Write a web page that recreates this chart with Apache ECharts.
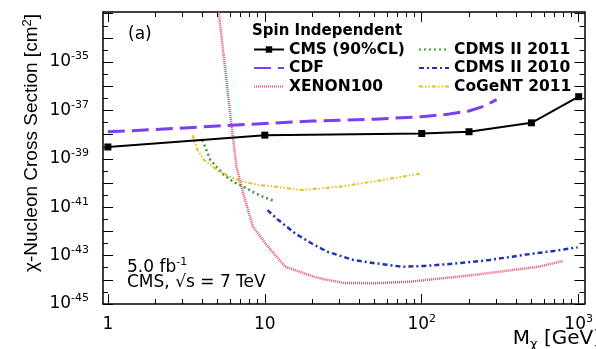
<!DOCTYPE html>
<html>
<head>
<meta charset="utf-8">
<script src="https://cdn.jsdelivr.net/npm/echarts@6/dist/echarts.min.js"></script>
<style>
  html, body { margin: 0; padding: 0; background: #fff; }
  #chart { width: 596px; height: 349px; }
</style>
</head>
<body>
<div id="chart"></div>
<script>
// values: mass in GeV, cross section in cm^2
const cmsMass = [1, 10, 100, 200, 500, 1000];
const cmsSigma = [3.09e-39, 9.55e-39, 1.12e-38, 1.32e-38, 3.09e-38, 3.72e-37];

const cdfMass = [1, 2, 5, 10, 20, 50, 100, 150, 200, 250, 300];
const cdfSigma = [1.32e-38, 1.62e-38, 2.29e-38, 2.88e-38, 3.63e-38, 4.37e-38, 5.5e-38, 7.08e-38, 9.55e-38, 1.51e-37, 2.82e-37];

const xenonMass = [5.0, 6.15, 6.6, 7.27, 8.4, 10.1, 13.5, 20.7, 25, 32, 51, 83, 214, 556, 795];
const xenonSigma = [3.16e-33, 2.14e-38, 4.68e-40, 3.89e-41, 1.58e-42, 3.16e-43, 3.47e-44, 1.32e-44, 1.0e-44, 7.41e-45, 7.24e-45, 8.32e-45, 1.58e-44, 3.47e-44, 6.03e-44];

const cdms11Mass = [4.0, 4.5, 5.5, 6.3, 7.3, 9.2, 11.7];
const cdms11Sigma = [6.03e-39, 8.91e-40, 2.14e-40, 1.12e-40, 7.08e-41, 3.16e-41, 1.7e-41];

const cdms10Mass = [10.4, 12.2, 15.6, 19.8, 25, 36.7, 51, 75, 104, 169, 272, 437, 706, 986];
const cdms10Sigma = [7.59e-42, 2.95e-42, 8.32e-43, 3.24e-43, 1.45e-43, 6.61e-44, 4.79e-44, 3.47e-44, 3.72e-44, 4.79e-44, 6.61e-44, 1.05e-43, 1.58e-43, 2.19e-43];

const cogentMass = [3.47, 3.73, 4.1, 4.96, 5.98, 7.3, 9.2, 11.7, 17.1, 30, 56, 100];
const cogentSigma = [9.55e-39, 2.29e-39, 8.91e-40, 3.47e-40, 1.82e-40, 1.12e-40, 8.32e-41, 7.08e-41, 5.13e-41, 7.08e-41, 1.32e-40, 2.51e-40];

// tick labels (decade exponents)
const xLabelDecades = [0, 1, 2, 3];
const yLabelDecades = [-45, -43, -41, -39, -37, -35];

// axes are drawn in log10 space
const toLog = (xs, ys) => xs.map((x, i) => [Math.log10(x), Math.log10(ys[i])]);

const xMin = -0.031, xMax = 3.037;
const yMin = -45, yMax = -32.93;

const xMajor = [0, 1, 2, 3];
const xMinor = [];
for (let d = 0; d < 3; d++) {
  for (let k = 2; k <= 9; k++) xMinor.push(d + Math.log10(k));
}
const yMajor = [];
const yMinor = [];
for (let e = -45; e <= -33; e++) {
  yMajor.push(e);
  if (e < -33) yMinor.push(e + 0.5);
}

const FONT = 'DejaVu Sans';
const supRich = {
  b: { fontFamily: FONT, fontSize: 17, color: '#000', lineHeight: 22, verticalAlign: 'middle' },
  s: { fontFamily: FONT, fontSize: 11, color: '#000', lineHeight: 10, verticalAlign: 'top' }
};

const frameLine = { show: true, onZero: false, lineStyle: { color: '#000', width: 1.5 } };
const noLine = { show: false, onZero: false };

function xAxisOf(position, ticks, len, withLine, withLabel) {
  return {
    type: 'value', position: position, min: xMin, max: xMax, gridIndex: 0,
    axisLine: withLine ? frameLine : noLine,
    splitLine: { show: false },
    axisTick: { show: true, inside: true, length: len, customValues: ticks, lineStyle: { color: '#000', width: 1 } },
    axisLabel: withLabel ? {
      show: true, customValues: xLabelDecades, margin: 10,
      formatter: function (v) {
        const d = Math.round(v);
        if (d === 0) return '{b|1}';
        if (d === 1) return '{b|10}';
        return '{b|10}{s|' + d + '}';
      },
      rich: supRich
    } : { show: false }
  };
}

function yAxisOf(position, ticks, len, withLine, withLabel) {
  return {
    type: 'value', position: position, min: yMin, max: yMax, gridIndex: 0,
    axisLine: withLine ? frameLine : noLine,
    splitLine: { show: false },
    axisTick: { show: true, inside: true, length: len, customValues: ticks, lineStyle: { color: '#000', width: 1 } },
    axisLabel: withLabel ? {
      show: true, customValues: yLabelDecades, margin: 14,
      formatter: function (v) {
        return '{b|10}{s|' + Math.round(v) + '}';
      },
      rich: supRich
    } : { show: false }
  };
}

const legendText = { fontFamily: FONT, fontWeight: 'bold', fontSize: 15.5, color: '#000' };
const hideMark = { opacity: 0 };

const myChart = echarts.init(document.getElementById('chart'));
const option = {
  animation: false,
  backgroundColor: '#fff',
  grid: { left: 103, top: 12, width: 494, height: 292, containLabel: false },
  xAxis: [
    xAxisOf('bottom', xMajor, 10, true, true),
    xAxisOf('bottom', xMinor, 5, false, false),
    xAxisOf('top', xMajor, 10, true, false),
    xAxisOf('top', xMinor, 5, false, false)
  ],
  yAxis: [
    yAxisOf('left', yMajor, 10, true, true),
    yAxisOf('left', yMinor, 5, false, false),
    yAxisOf('right', yMajor, 10, true, false),
    yAxisOf('right', yMinor, 5, false, false)
  ],
  legend: [
    {
      data: [
        { name: 'CMS (90%CL)' },
        { name: 'CDF', itemStyle: hideMark },
        { name: 'XENON100', itemStyle: hideMark }
      ],
      orient: 'vertical', left: 253, top: 41.5, padding: 0,
      itemWidth: 30, itemHeight: 8, itemGap: 2.5,
      textStyle: legendText
    },
    {
      data: [
        { name: 'CDMS II 2011', itemStyle: hideMark },
        { name: 'CDMS II 2010', itemStyle: hideMark },
        { name: 'CoGeNT 2011', itemStyle: hideMark }
      ],
      orient: 'vertical', left: 418, top: 41.5, padding: 0,
      itemWidth: 30, itemHeight: 8, itemGap: 2.5,
      textStyle: legendText
    }
  ],
  graphic: [
    { type: 'text', x: 252, y: 31, style: { text: 'Spin Independent', font: 'bold 15px "DejaVu Sans"', fill: '#000', align: 'left', verticalAlign: 'middle' } },
    { type: 'text', x: 128, y: 35, style: { text: '(a)', font: '17px "DejaVu Sans"', fill: '#000', align: 'left', verticalAlign: 'middle' } },
    { type: 'text', x: 127, y: 268, style: { text: '{b|5.0 fb}{s|-1}', rich: supRich, align: 'left', verticalAlign: 'middle' } },
    { type: 'text', x: 127, y: 283, style: { text: 'CMS, √s = 7 TeV', font: '17px "DejaVu Sans"', fill: '#000', align: 'left', verticalAlign: 'middle' } },
    {
      type: 'text', x: 601, y: 339,
      style: {
        text: '{m|M}{x|χ}{m| [GeV]}', align: 'right', verticalAlign: 'middle',
        rich: {
          m: { fontFamily: FONT, fontSize: 20, color: '#000', lineHeight: 24, verticalAlign: 'middle' },
          x: { fontFamily: FONT, fontSize: 13, color: '#000', lineHeight: 12, verticalAlign: 'bottom' }
        }
      }
    },
    {
      type: 'text', x: 32, y: 143, rotation: Math.PI / 2,
      style: {
        text: '{t|χ-Nucleon Cross Section [cm}{s|2}{t|]}', align: 'center', verticalAlign: 'middle',
        rich: {
          t: { fontFamily: 'Liberation Sans', fontSize: 19, color: '#000', lineHeight: 22, verticalAlign: 'middle' },
          s: { fontFamily: 'Liberation Sans', fontSize: 13, color: '#000', lineHeight: 10, verticalAlign: 'top' }
        }
      }
    }
  ],
  series: [
    {
      name: 'XENON100', type: 'line', data: toLog(xenonMass, xenonSigma),
      symbol: 'none', showSymbol: false, clip: true,
      lineStyle: { color: '#e0506a', width: 2.5, type: [1, 1] },
      itemStyle: { color: '#e0506a' }, z: 2
    },
    {
      name: 'CDMS II 2011', type: 'line', data: toLog(cdms11Mass, cdms11Sigma),
      symbol: 'none', showSymbol: false, clip: true,
      lineStyle: { color: '#3a9a3c', width: 2.5, type: [2, 3] },
      itemStyle: { color: '#3a9a3c' }, z: 3
    },
    {
      name: 'CDMS II 2010', type: 'line', data: toLog(cdms10Mass, cdms10Sigma),
      symbol: 'none', showSymbol: false, clip: true,
      lineStyle: { color: '#2233b0', width: 2.5, type: [5, 3, 2, 3] },
      itemStyle: { color: '#2233b0' }, z: 3
    },
    {
      name: 'CoGeNT 2011', type: 'line', data: toLog(cogentMass, cogentSigma),
      symbol: 'none', showSymbol: false, clip: true,
      lineStyle: { color: '#e6c020', width: 2, type: [4, 2, 1.5, 2, 1.5, 2] },
      itemStyle: { color: '#e6c020' }, z: 3
    },
    {
      name: 'CDF', type: 'line', data: toLog(cdfMass, cdfSigma),
      symbol: 'none', showSymbol: false, clip: true,
      lineStyle: { color: '#7b3ff0', width: 3, type: [17, 7] },
      itemStyle: { color: '#7b3ff0' }, z: 4
    },
    {
      name: 'CMS (90%CL)', type: 'line', data: toLog(cmsMass, cmsSigma),
      symbol: 'rect', symbolSize: 7, showSymbol: true, clip: true,
      lineStyle: { color: '#000', width: 2 },
      itemStyle: { color: '#000' }, z: 5
    }
  ]
};
myChart.setOption(option);
</script>
</body>
</html>
